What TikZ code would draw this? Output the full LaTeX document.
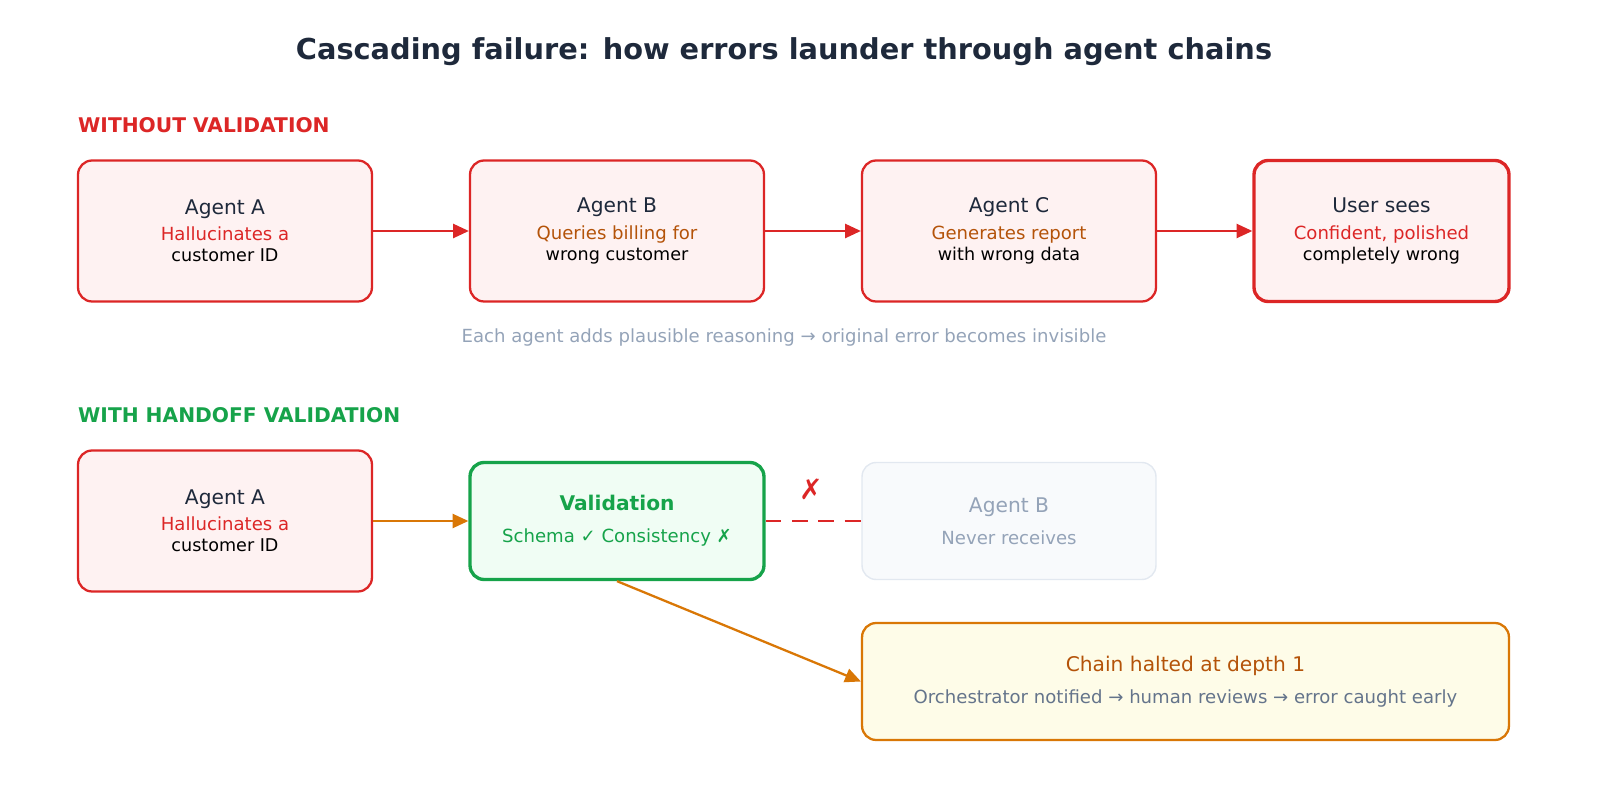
\documentclass[tikz,border=0pt]{standalone}
\usepackage{fontspec}
\setmainfont{DejaVu Sans}
\usetikzlibrary{positioning,arrows.meta}
\definecolor{errred}{HTML}{DC2626}
\definecolor{errfill}{HTML}{FEF2F2}
\definecolor{warnorg}{HTML}{B45309}
\definecolor{linkorg}{HTML}{D97706}
\definecolor{okgreen}{HTML}{16A34A}
\definecolor{okfill}{HTML}{F0FDF4}
\definecolor{ink}{HTML}{1E293B}
\definecolor{mute}{HTML}{94A3B8}
\definecolor{slate}{HTML}{64748B}
\definecolor{ghostfill}{HTML}{F8FAFC}
\definecolor{ghostline}{HTML}{E2E8F0}
\definecolor{haltfill}{HTML}{FEFCE8}
\newcommand{\headfont}{\fontsize{11.5}{14}\selectfont}
\newcommand{\subfont}{\fontsize{10.3}{15.5}\selectfont}
\tikzset{
  box/.style={draw=errred,fill=errfill,line width=1.3pt,rounded corners=8pt,
    minimum width=5.88cm,minimum height=2.82cm,align=center,inner sep=0pt},
  flow/.style={-{Triangle[length=9pt,width=8pt]},line width=1.3pt,draw=errred},
}
\begin{document}
\begin{tikzpicture}[x=0.02cm,y=-0.02cm]
  \useasboundingbox (0,0) rectangle (1600,800);
  \node (title) at (784,52) {\fontsize{16.4}{20}\selectfont\bfseries\color{ink}Cascading failure: how errors launder through agent chains};
  \node[anchor=west] (top) at (72,125) {\headfont\bfseries\color{errred}WITHOUT VALIDATION};
  % without validation
  \node[box] (a1) at (225,231) {\headfont\color{ink}Agent A\\[3pt]\subfont\color{errred}Hallucinates a\\customer ID};
  \node[box] (b1) at (617,231) {\headfont\color{ink}Agent B\\[3pt]\subfont\color{warnorg}Queries billing for\\wrong customer};
  \node[box] (c1) at (1009,231) {\headfont\color{ink}Agent C\\[3pt]\subfont\color{warnorg}Generates report\\with wrong data};
  \node[box,line width=1.9pt,minimum width=5.1cm] (user) at (1381.5,231) {\headfont\color{ink}User sees\\[3pt]\subfont\color{errred}Confident, polished\\completely wrong};
  \draw[flow] (a1) -- (b1);
  \draw[flow] (b1) -- (c1);
  \draw[flow] (c1) -- (user);
  \node (note) at (784,338) {\fontsize{10.3}{14}\selectfont\color{mute}Each agent adds plausible reasoning → original error becomes invisible};
  % with validation
  \node[anchor=west] (bot) at (72,415) {\headfont\bfseries\color{okgreen}WITH HANDOFF VALIDATION};
  \node[box] (a2) at (225,521) {\headfont\color{ink}Agent A\\[3pt]\subfont\color{errred}Hallucinates a\\customer ID};
  \node[box,draw=okgreen,fill=okfill,line width=1.9pt,minimum height=2.34cm] (val) at (617,521) {\headfont\bfseries\color{okgreen}Validation\\[6pt]\subfont\mdseries\color{okgreen}Schema ✓ Consistency ✗};
  \node[box,draw=ghostline,fill=ghostfill,line width=0.8pt,minimum height=2.34cm] (b2) at (1009,521) {\headfont\color{mute}Agent B\\[6pt]\subfont\color{mute}Never receives};
  \node[box,draw=linkorg,fill=haltfill,minimum width=12.94cm,minimum height=2.34cm] (halt) at (1185.5,681.5) {\headfont\color{warnorg}Chain halted at depth 1\\[6pt]\subfont\color{slate}Orchestrator notified → human reviews → error caught early};
  \draw[flow,draw=linkorg] (a2) -- (val);
  \draw[errred,line width=1.3pt,dash pattern=on 9pt off 6pt] (val) -- (b2);
  \node (cross) at (811,489) {\fontsize{16}{18}\selectfont\bfseries\color{errred}✗};
  \draw[flow,draw=linkorg] (val.south) -- (halt.west);
\end{tikzpicture}
\end{document}
